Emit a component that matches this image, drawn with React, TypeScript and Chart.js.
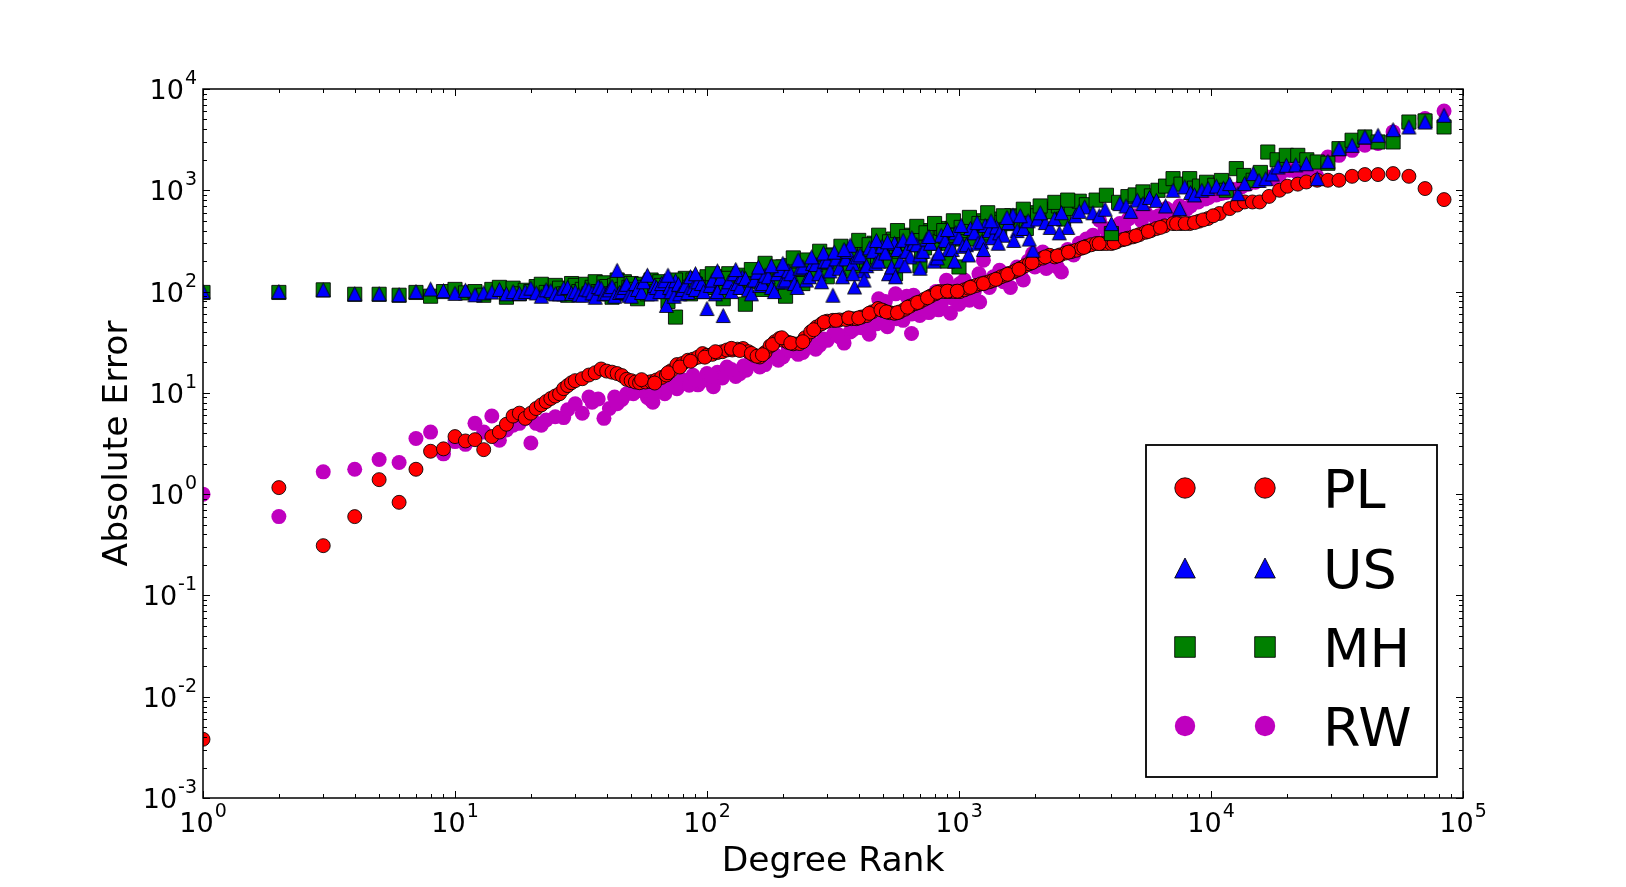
import React, { useEffect, useRef } from "react";
import { Chart, registerables } from "chart.js";

Chart.register(...registerables);

const W = 1626;
const H = 887;

// ---- data (rank, absolute error) ----
const plRanks = [1, 2, 3, 4, 5, 6, 7, 8, 9, 10, 11, 12, 13, 14, 15, 16, 17, 18, 19, 20, 21, 22, 23, 24, 25, 26, 27, 28, 29, 30, 32, 34, 36, 38, 40, 42, 44, 46, 48, 50, 52, 54, 57, 60, 63, 66, 69, 72, 76, 80, 84, 88, 92, 96, 100, 105, 110, 115, 120, 126, 132, 139, 146, 154, 162, 170, 178, 186, 194, 202, 210, 220, 233, 245, 258, 272, 285, 300, 316, 335, 355, 375, 391, 410, 430, 452, 477, 500, 530, 555, 582, 610, 640, 670, 699, 730, 770, 805, 839, 880, 920, 965, 1007, 1050, 1090, 1130, 1172, 1220, 1270, 1320, 1365, 1420, 1470, 1530, 1587, 1640, 1690, 1760, 1830, 1900, 1966, 2028, 2150, 2290, 2397, 2520, 2650, 2790, 2925, 3060, 3200, 3350, 3510, 3700, 3850, 4025, 4230, 4450, 4670, 4900, 5200, 5500, 5780, 6070, 6550, 7070, 7600, 8230, 8950, 9730, 10800, 11860, 12700, 13600, 14600, 15600, 17000, 18700, 20100, 22100, 23900, 26400, 29100, 32200, 36300, 40800, 46000, 52800, 61000, 70700, 84100,
  55, 62, 70, 78, 86, 98, 108, 125, 135, 150, 158, 166, 182, 198, 215, 240, 265, 292, 325, 365, 400, 440, 490, 515, 570, 625, 685, 750, 820, 900, 985, 1110, 1250, 1400, 1560, 1730, 1950, 2200, 2460, 2720, 3130, 3600, 4130, 4560, 5040, 5640, 6300, 7300, 7900, 8600, 9300, 10200];
const plErrors = [0.0038, 1.16, 0.31, 0.6, 1.39, 0.83, 1.76, 2.65, 2.8, 3.7, 3.35, 3.45, 2.75, 3.7, 4.1, 4.9, 5.9, 6.3, 5.6, 6.3, 7.0, 7.6, 8.2, 8.8, 9.3, 9.8, 11.0, 11.8, 12.6, 13.2, 13.8, 15.0, 15.8, 17.2, 16.4, 16.0, 15.5, 14.8, 13.6, 13.2, 12.8, 12.6, 12.8, 12.9, 13.4, 14.2, 15.0, 16.5, 19.0, 19.5, 21, 21.5, 22.5, 24.4, 23.5, 24, 25, 25.5, 26.5, 26.5, 27, 27.4, 25.5, 23.5, 22.6, 25, 29, 32, 34.4, 33, 31.5, 30.5, 30.7, 35, 40, 44.7, 48, 51, 52, 52.5, 53, 54, 54, 56, 58, 63, 68, 65, 62, 61, 63, 67, 72, 76, 79, 84, 90, 95, 100, 100, 100, 100, 100, 104, 108, 112, 115, 119, 122, 125, 129, 134, 140, 145, 151, 156, 162, 170, 180, 188, 196, 204, 214, 228, 220, 230, 240, 248, 256, 268, 280, 290, 298, 298, 298, 298, 310, 325, 336, 347, 365, 385, 400, 419, 445, 469, 469, 469, 495, 526, 590, 660, 715, 767, 767, 767, 870, 1000, 1096, 1150, 1208, 1256, 1256, 1256, 1374, 1430, 1430, 1462, 1374, 1040, 809,
  13.5, 12.5, 15.8, 18, 20.5, 22.5, 25.5, 27.5, 26.2, 24.5, 23, 23.8, 30, 35, 31, 32, 42, 50, 52, 55, 55, 61, 66, 63, 62, 70, 78, 87, 98, 101, 101, 110, 120, 132, 148, 166, 193, 220, 225, 245, 273, 298, 304, 330, 355, 392, 430, 469, 469, 480, 510, 560];

const usRanks = [1, 2, 3, 4, 5, 6, 7, 8, 9, 10, 11, 12, 13, 14, 15, 16, 17, 18, 19, 20, 21, 22, 23, 24, 25, 26, 27, 28, 29, 30, 31, 32, 33, 34, 35, 36, 37, 38, 39, 40, 41, 42, 43, 44, 45, 46, 47, 48, 49, 50, 52, 53, 55, 56, 58, 60, 62, 63, 65, 66, 68, 69, 71, 72, 74, 75, 77, 78, 80, 82, 84, 86, 88, 90, 92, 95, 97, 100, 103, 105, 108, 110, 113, 116, 119, 122, 125, 128, 132, 135, 138, 142, 146, 150, 154, 158, 162, 166, 170, 175, 180, 185, 190, 195, 200, 205, 210, 215, 222, 228, 234, 240, 248, 255, 262, 270, 278, 285, 292, 300, 308, 316, 325, 335, 345, 355, 362, 370, 378, 385, 395, 405, 418, 430, 442, 455, 468, 480, 495, 510, 525, 540, 555, 570, 585, 600, 620, 640, 660, 680, 700, 720, 745, 770, 795, 820, 850, 880, 910, 940, 970, 1000, 1035, 1070, 1110, 1150, 1190, 1230, 1270, 1320, 1360, 1407, 1450, 1500, 1570, 1637, 1700, 1800, 1880, 1966, 2050, 2200, 2300, 2397, 2550, 2700, 2900, 3155, 3400, 3600, 3800, 4025, 4345, 4600, 4800, 5100, 5370, 5700, 6070, 6600, 7070, 7510, 7870, 8300, 8600, 9200, 9730, 10500, 11200, 11860, 12800, 13600, 14700, 15500, 16500, 17500, 18450, 19900, 21700, 23900, 26400, 29100, 32200, 36300, 40800, 46000, 52800, 61000, 70700, 84100,
  70, 90, 110, 130, 160, 180, 200, 230, 260, 290, 320, 350, 380, 420, 470, 520, 560, 610, 650, 700, 760, 830, 900, 960, 1020, 1090, 1180, 1250, 1340, 1430, 1550, 1650, 1750, 1900, 2100, 2500, 3000];
const usErrors = [100, 100, 104, 95, 95, 93, 100, 106, 102, 96, 103, 93, 97, 99, 105, 95, 100, 96, 100, 108, 97, 90, 104, 102, 95, 95, 108, 110, 96, 100, 93, 92, 106, 104, 97, 88, 112, 108, 95, 96, 104, 112, 90, 162, 98, 100, 110, 118, 92, 90, 120, 105, 98, 125, 145, 95, 115, 110, 100, 120, 128, 73, 110, 100, 90, 128, 118, 95, 105, 115, 98, 140, 110, 105, 125, 120, 100, 68, 115, 130, 95, 100, 135, 58, 110, 125, 100, 150, 120, 110, 140, 135, 105, 95, 130, 155, 115, 120, 145, 140, 110, 100, 150, 165, 125, 130, 160, 150, 120, 110, 170, 175, 130, 140, 190, 185, 150, 125, 200, 200, 160, 92, 210, 170, 140, 210, 250, 287, 190, 111, 220, 230, 160, 180, 270, 250, 190, 200, 280, 240, 150, 175, 300, 260, 200, 321, 250, 220, 300, 290, 230, 250, 330, 300, 200, 215, 360, 320, 260, 260, 380, 340, 280, 290, 420, 380, 300, 310, 450, 400, 340, 434, 380, 360, 480, 567, 400, 420, 500, 256, 520, 480, 430, 525, 600, 430, 560, 684, 600, 560, 650, 469, 739, 700, 620, 800, 739, 850, 796, 700, 1000, 660, 1080, 950, 900, 1000, 1040, 1100, 1050, 1164, 926, 1164, 1462, 1250, 1300, 1450, 1700, 1765, 1780, 1830, 1303, 1932, 2576, 2780, 3360, 3490, 3970, 4220, 4720, 5500,
  145, 150, 160, 165, 175, 180, 190, 205, 220, 240, 245, 260, 150, 130, 320, 310, 140, 180, 340, 170, 350, 240, 410, 200, 450, 230, 480, 260, 500, 300, 540, 320, 560, 330, 600, 380, 620];

const mhRanks = [1, 2, 3, 4, 5, 6, 7, 8, 9, 10, 11, 12, 13, 14, 15, 16, 17, 18, 19, 20, 21, 22, 23, 24, 25, 26, 27, 28, 29, 30, 31, 32, 33, 34, 35, 36, 37, 38, 39, 40, 41, 42, 43, 44, 45, 46, 47, 48, 49, 50, 52, 53, 55, 56, 58, 60, 62, 63, 65, 66, 68, 70, 72, 75, 77, 78, 80, 82, 84, 86, 88, 90, 92, 95, 97, 100, 103, 105, 108, 110, 113, 116, 119, 122, 125, 128, 132, 135, 138, 142, 146, 150, 154, 158, 162, 166, 170, 175, 180, 185, 190, 195, 200, 205, 210, 215, 222, 228, 234, 240, 248, 255, 262, 270, 278, 285, 292, 300, 308, 316, 325, 335, 345, 355, 362, 370, 380, 390, 400, 410, 420, 430, 445, 460, 475, 490, 505, 520, 535, 550, 565, 580, 595, 610, 630, 650, 670, 690, 710, 730, 755, 780, 805, 830, 855, 880, 910, 940, 970, 1000, 1035, 1070, 1110, 1150, 1190, 1230, 1270, 1320, 1360, 1400, 1450, 1543, 1620, 1700, 1770, 1850, 1950, 2050, 2200, 2361, 2480, 2600, 2790, 3000, 3200, 3500, 3846, 4025, 4300, 4680, 5000, 5370, 5800, 6160, 6600, 7070, 7600, 8230, 8600, 9000, 9600, 10350, 11000, 11500, 12600, 13500, 14700, 15700, 16800, 18300, 19900, 22100, 24000, 26400, 29100, 32200, 36300, 40800, 46000, 52800, 61000, 70700, 84100,
  75, 90, 105, 120, 150, 170, 190, 220, 250, 280, 310, 340, 370, 400, 440, 480, 530, 560, 570, 620, 680, 700, 740, 800, 870, 900, 950, 1020, 1100, 1200, 1300, 1500, 1800, 2100, 2400, 2700];
const mhErrors = [98, 98, 104, 94, 94, 92, 98, 90, 100, 105, 97, 100, 92, 105, 110, 88, 108, 95, 103, 100, 112, 118, 98, 97, 115, 108, 95, 92, 120, 115, 100, 105, 118, 95, 110, 125, 100, 100, 122, 112, 95, 88, 115, 130, 100, 105, 125, 95, 110, 120, 105, 85, 118, 110, 95, 130, 110, 100, 125, 115, 100, 80, 120, 56, 105, 110, 125, 135, 110, 95, 130, 120, 105, 100, 125, 140, 110, 110, 130, 125, 105, 85, 140, 150, 120, 115, 135, 145, 110, 75, 130, 130, 150, 160, 125, 105, 140, 170, 150, 135, 120, 155, 175, 90, 150, 180, 160, 145, 130, 120, 185, 195, 150, 160, 200, 210, 170, 140, 220, 230, 180, 185, 240, 250, 200, 160, 230, 220, 180, 280, 240, 200, 260, 300, 220, 240, 310, 270, 200, 330, 280, 250, 320, 360, 300, 290, 350, 330, 250, 270, 400, 380, 300, 310, 420, 350, 300, 420, 360, 175, 330, 400, 460, 330, 500, 450, 360, 380, 520, 480, 420, 469, 560, 545, 480, 420, 600, 560, 650, 611, 700, 520, 660, 780, 720, 800, 893, 374, 760, 866, 900, 964, 880, 1000, 1100, 1303, 1150, 1303, 1050, 1100, 1200, 1120, 1250, 1000, 1637, 1400, 1256, 1500, 2386, 2000, 2212, 2212, 2000, 1902, 1850, 2576, 3119, 3360, 3000, 3000, 4720, 4840, 4220,
  130, 118, 150, 135, 165, 190, 175, 215, 205, 250, 225, 280, 245, 320, 290, 360, 310, 150, 400, 350, 440, 180, 380, 470, 400, 200, 500, 430, 540, 470, 600, 560, 650, 700, 760, 800];

const rwRanks = [1, 2, 3, 4, 5, 6, 7, 8, 9, 10, 11, 12, 13, 14, 15, 16, 17, 18, 19, 20, 21, 22, 23, 25, 27, 28, 30, 32, 34, 35, 37, 39, 41, 43, 44, 46, 48, 51, 55, 58, 60, 61, 65, 68, 72, 76, 80, 83, 85, 88, 92, 95, 100, 106, 110, 115, 120, 125, 130, 135, 143, 150, 155, 162, 170, 178, 185, 192, 200, 210, 220, 230, 240, 250, 260, 270, 280, 300, 318, 336, 350, 370, 390, 410, 440, 470, 480, 520, 560, 580, 600, 620, 648, 699, 720, 760, 800, 830, 891, 925, 960, 1000, 1050, 1100, 1150, 1208, 1250, 1300, 1370, 1449, 1530, 1600, 1700, 1800, 1880, 1960, 2050, 2150, 2220, 2300, 2460, 2550, 2700, 2850, 3000, 3200, 3400, 3610, 3800, 4000, 4345, 4700, 5000, 5500, 6000, 6340, 6650, 7000, 7500, 8000, 8900, 9500, 10500, 11500, 12300, 13200, 14000, 15000, 16700, 17800, 18700, 20500, 22000, 24000, 26200, 29100, 32200, 36300, 40800, 46000, 52800, 61000, 70700, 84100,
  62, 75, 90, 104, 140, 165, 190, 215, 250, 290, 330, 380, 430, 500, 565, 650, 740, 850, 950, 1100, 1320, 1500, 1750, 2000, 2400, 2800, 3300, 3900, 4500, 5300, 6200, 7200, 8300, 9800, 11000, 510, 660, 810, 1010, 1200];
const rwErrors = [1.0, 0.6, 1.66, 1.76, 2.2, 2.05, 3.54, 4.1, 2.5, 3.3, 3.1, 5.0, 4.1, 5.9, 3.4, 4.3, 4.8, 5.0, 5.6, 3.2, 5.0, 4.8, 5.4, 5.8, 5.7, 6.8, 7.8, 6.3, 9.1, 8.1, 8.7, 5.6, 7.0, 9.1, 7.8, 8.6, 9.8, 9.8, 10.5, 9.0, 8.5, 8.1, 11, 9.8, 12.5, 11, 13.5, 12.3, 11.9, 14.9, 12.0, 13, 15.5, 11.5, 16, 14, 18, 17, 14.5, 15.5, 16.7, 21, 20, 18, 19, 25, 24, 21, 22.6, 28, 27, 24, 25, 33, 31, 27, 29.5, 33, 38, 35.7, 31, 40, 45, 44, 38, 48, 85, 45, 95, 55, 52, 90, 38.5, 58, 75, 62, 70, 66, 129, 61, 90, 75, 130, 82, 100, 79, 204, 120, 140, 162, 150, 110, 175, 130, 200, 237, 185, 246, 169, 210, 174, 156, 260, 230, 300, 330, 360, 506, 420, 380, 469, 520, 560, 600, 540, 478, 660, 600, 700, 650, 767, 820, 900, 950, 1020, 1080, 1150, 1200, 1350, 1300, 1400, 1578, 1500, 1650, 1400, 2130, 2212, 2480, 2780, 2900, 3770, 4500, 5100, 6070,
  10, 12, 13.5, 14.5, 18.5, 21, 23, 26, 29, 34, 38, 42, 47, 50, 54, 60, 66, 75, 85, 95, 110, 125, 150, 175, 200, 250, 300, 360, 420, 500, 560, 620, 700, 850, 930, 80, 92, 100, 120, 150];

const xTickExps = [0, 1, 2, 3, 4, 5];
const yTickExps = [-3, -2, -1, 0, 1, 2, 3, 4];
const xTitle = "Degree Rank";
const yTitle = "Absolute Error";
const legendLabels = ["PL", "US", "MH", "RW"];

const FONT = '"DejaVu Sans", "Liberation Sans", sans-serif';
const RED = "#ff0000";
const BLUE = "#0000ff";
const GREEN = "#008000";
const MAGENTA = "#bf00bf";
const EDGE = "rgba(0,0,0,0.85)";

function pts(xs: number[], ys: number[]) {
  return xs.map((x, i) => ({ x, y: ys[i] }));
}

function makeTriangle(size: number) {
  const c = document.createElement("canvas");
  const s = size + 3;
  c.width = s;
  c.height = s;
  const g = c.getContext("2d")!;
  const cx = s / 2;
  const h = size / 2;
  g.beginPath();
  g.moveTo(cx, cx - h);
  g.lineTo(cx + h, cx + h);
  g.lineTo(cx - h, cx + h);
  g.closePath();
  g.fillStyle = BLUE;
  g.fill();
  g.lineWidth = 1;
  g.strokeStyle = EDGE;
  g.stroke();
  return c;
}

function drawPow(ctx: CanvasRenderingContext2D, exp: number, x: number, baseY: number, align: "center" | "right") {
  const base = "10";
  const sup = String(exp);
  ctx.font = `27px ${FONT}`;
  const bw = ctx.measureText(base).width;
  ctx.font = `19px ${FONT}`;
  const sw = ctx.measureText(sup).width;
  const gap = 1;
  const total = bw + gap + sw;
  const x0 = align === "center" ? x - total / 2 : x - total;
  ctx.textAlign = "left";
  ctx.textBaseline = "alphabetic";
  ctx.fillStyle = "#000";
  ctx.font = `27px ${FONT}`;
  ctx.fillText(base, x0, baseY);
  ctx.font = `19px ${FONT}`;
  ctx.fillText(sup, x0 + bw + gap, baseY - 15);
}

const mplPlugin = {
  id: "mplAxes",
  afterDraw(chart: any) {
    const ctx: CanvasRenderingContext2D = chart.ctx;
    const a = chart.chartArea;
    const xs = chart.scales.x;
    const ys = chart.scales.y;
    ctx.save();

    // legend
    const lx0 = 1146, ly0 = 445, lx1 = 1437, ly1 = 777;
    ctx.fillStyle = "#fff";
    ctx.fillRect(lx0, ly0, lx1 - lx0, ly1 - ly0);
    ctx.lineWidth = 1.8;
    ctx.strokeStyle = "#000";
    ctx.strokeRect(lx0, ly0, lx1 - lx0, ly1 - ly0);
    const rows = [488, 568, 647, 726];
    const mxs = [1185, 1265];
    rows.forEach((ry, i) => {
      mxs.forEach((mx) => {
        ctx.beginPath();
        if (i === 0 || i === 3) {
          ctx.arc(mx, ry, 10.2, 0, Math.PI * 2);
        } else if (i === 1) {
          ctx.moveTo(mx, ry - 10);
          ctx.lineTo(mx + 10.3, ry + 10);
          ctx.lineTo(mx - 10.3, ry + 10);
          ctx.closePath();
        } else {
          ctx.rect(mx - 10.3, ry - 10.3, 20.6, 20.6);
        }
        ctx.fillStyle = [RED, BLUE, GREEN, MAGENTA][i];
        ctx.fill();
        if (i !== 3) {
          ctx.lineWidth = 1;
          ctx.strokeStyle = EDGE;
          ctx.stroke();
        }
      });
      ctx.fillStyle = "#000";
      ctx.font = `54px ${FONT}`;
      ctx.textAlign = "left";
      ctx.textBaseline = "alphabetic";
      ctx.fillText(legendLabels[i], 1323, ry + 20);
    });

    // frame
    ctx.strokeStyle = "#000";
    ctx.lineWidth = 1.5;
    ctx.strokeRect(a.left, a.top, a.right - a.left, a.bottom - a.top);

    // ticks
    ctx.lineWidth = 1;
    const line = (x1: number, y1: number, x2: number, y2: number) => {
      ctx.beginPath();
      ctx.moveTo(x1, y1);
      ctx.lineTo(x2, y2);
      ctx.stroke();
    };
    const xMin = xTickExps[0], xMax = xTickExps[xTickExps.length - 1];
    for (let d = xMin; d <= xMax; d++) {
      for (let m = 1; m <= 9; m++) {
        if (d === xMax && m > 1) break;
        const px = Math.round(xs.getPixelForValue(m * Math.pow(10, d))) + 0.5;
        const len = m === 1 ? 7 : 4;
        line(px, a.bottom, px, a.bottom - len);
        line(px, a.top, px, a.top + len);
      }
    }
    const yMin = yTickExps[0], yMax = yTickExps[yTickExps.length - 1];
    for (let d = yMin; d <= yMax; d++) {
      for (let m = 1; m <= 9; m++) {
        if (d === yMax && m > 1) break;
        const py = Math.round(ys.getPixelForValue(m * Math.pow(10, d))) + 0.5;
        const len = m === 1 ? 7 : 4;
        line(a.left, py, a.left + len, py);
        line(a.right, py, a.right - len, py);
      }
    }

    // tick labels
    xTickExps.forEach((e) => {
      const px = xs.getPixelForValue(Math.pow(10, e));
      drawPow(ctx, e, px, a.bottom + 34, "center");
    });
    yTickExps.forEach((e) => {
      const py = ys.getPixelForValue(Math.pow(10, e));
      drawPow(ctx, e, a.left - 6, py + 10, "right");
    });

    // axis titles
    ctx.fillStyle = "#000";
    ctx.font = `34.5px ${FONT}`;
    ctx.textAlign = "center";
    ctx.textBaseline = "alphabetic";
    ctx.fillText(xTitle, (a.left + a.right) / 2, 871);
    ctx.save();
    ctx.translate(127, (a.top + a.bottom) / 2);
    ctx.rotate(-Math.PI / 2);
    ctx.fillText(yTitle, 0, 0);
    ctx.restore();

    ctx.restore();
  },
};

export default function App() {
  const ref = useRef<HTMLCanvasElement | null>(null);
  useEffect(() => {
    if (!ref.current) return;
    const tri = makeTriangle(14);
    const chart = new Chart(ref.current, {
      type: "scatter",
      data: {
        datasets: [
          {
            label: "US",
            data: pts(usRanks, usErrors),
            pointStyle: tri as any,
            pointRadius: 8,
            backgroundColor: BLUE,
            borderColor: EDGE,
            borderWidth: 1,
            clip: 0,
          } as any,
          {
            label: "MH",
            data: pts(mhRanks, mhErrors),
            pointStyle: "rect",
            pointRadius: 10,
            backgroundColor: GREEN,
            borderColor: EDGE,
            borderWidth: 1,
            clip: 0,
          },
          {
            label: "PL",
            data: pts(plRanks, plErrors),
            pointStyle: "circle",
            pointRadius: 7,
            backgroundColor: RED,
            borderColor: EDGE,
            borderWidth: 1,
            clip: 0,
          },
          {
            label: "RW",
            data: pts(rwRanks, rwErrors),
            pointStyle: "circle",
            pointRadius: 7.5,
            backgroundColor: MAGENTA,
            borderColor: MAGENTA,
            borderWidth: 0,
            clip: 0,
          },
        ],
      },
      options: {
        animation: false,
        responsive: false,
        devicePixelRatio: 1,
        events: [],
        layout: { padding: { left: 203, right: W - 1463, top: 89, bottom: H - 798 } },
        plugins: { legend: { display: false }, tooltip: { enabled: false } },
        scales: {
          x: { type: "logarithmic", min: 1, max: 100000, display: false },
          y: { type: "logarithmic", min: 0.001, max: 10000, display: false },
        },
      },
      plugins: [mplPlugin],
    });
    return () => chart.destroy();
  }, []);
  return (
    <div style={{ position: "absolute", left: 0, top: 0, width: W, height: H, background: "#fff" }}>
      <canvas ref={ref} width={W} height={H} style={{ display: "block", width: W, height: H }} />
    </div>
  );
}
